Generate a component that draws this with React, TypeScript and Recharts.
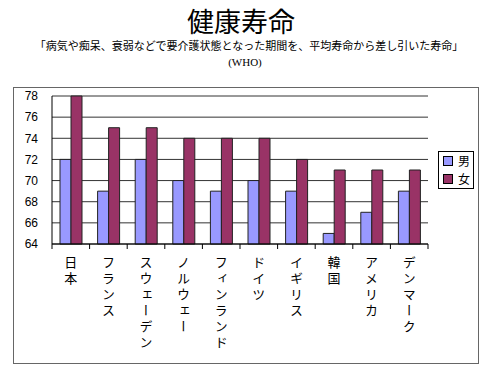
import React from "react";
import { Bar, BarChart, CartesianGrid, XAxis, YAxis } from "recharts";

const countries = ["日本", "フランス", "スウェーデン", "ノルウェー", "フィンランド", "ドイツ", "イギリス", "韓国", "アメリカ", "デンマーク"];
const male = [72, 69, 72, 70, 69, 70, 69, 65, 67, 69];
const female = [78, 75, 75, 74, 74, 74, 72, 71, 71, 71];
const yTicks = [64, 66, 68, 70, 72, 74, 76, 78];
const seriesNames = ["男", "女"];

const data = countries.map((name, i) => ({ name, male: male[i], female: female[i] }));

const MALE_COLOR = "#9999ff";
const FEMALE_COLOR = "#993366";
const JP_FONT = "'Noto Sans CJK JP', sans-serif";

// plot area is 376px wide, 10 categories
const CAT_W = 37.6;

function CountryTick(props: any) {
  const { x, y, payload, index } = props;
  return (
    <g>
      {index === 0 ? <line x1={x - CAT_W / 2} y1={y} x2={x - CAT_W / 2} y2={y + 5} stroke="#000" /> : null}
      <line x1={x + CAT_W / 2} y1={y} x2={x + CAT_W / 2} y2={y + 5} stroke="#000" />
      <text
        x={x}
        y={y + 12}
        fontSize={13}
        fill="#000"
        fontFamily={JP_FONT}
        style={{ writingMode: "vertical-rl", letterSpacing: 3 } as any}
      >
        {payload.value}
      </text>
    </g>
  );
}

function LegendBox() {
  const colors = [MALE_COLOR, FEMALE_COLOR];
  return (
    <div
      style={{
        position: "absolute",
        left: 438,
        top: 151,
        width: 36,
        height: 38,
        border: "1px solid #000",
        background: "#fff",
        fontFamily: JP_FONT,
        fontSize: 12,
        color: "#000",
        boxSizing: "border-box",
        paddingTop: 0,
      }}
    >
      {seriesNames.map((label, i) => (
        <div key={label} style={{ display: "flex", alignItems: "center", height: 18, paddingLeft: 4 }}>
          <span style={{ width: 8, height: 8, background: colors[i], border: "1px solid #000", marginRight: 5, flex: "none" }} />
          <span style={{ lineHeight: "18px" }}>{label}</span>
        </div>
      ))}
    </div>
  );
}

export default function App() {
  return (
    <div style={{ position: "absolute", left: 0, top: 0, width: 500, height: 377, background: "#fff" }}>
      <div
        style={{
          position: "absolute",
          left: 13,
          top: 87,
          width: 464,
          height: 275,
          border: "1px solid #666",
        }}
      />
      <svg width={500} height={87} style={{ position: "absolute", left: 0, top: 0 }}>
        <text x={241} y={32} textAnchor="middle" fontSize={27} fontFamily={JP_FONT} fill="#000">
          健康寿命
        </text>
        <text x={249} y={50} textAnchor="middle" fontSize={11} fontFamily={JP_FONT} fill="#000">
          「病気や痴呆、衰弱などで要介護状態となった期間を、平均寿命から差し引いた寿命」
        </text>
        <text x={245} y={66} textAnchor="middle" fontSize={11} fontFamily="'Liberation Serif', serif" fill="#000">
          (WHO)
        </text>
      </svg>
      <div style={{ position: "absolute", left: 0, top: 0 }}>
        <BarChart
          width={500}
          height={377}
          data={data}
          margin={{ top: 96, right: 72, bottom: 0, left: 0 }}
          barSize={11}
          barGap={0}
        >
          <CartesianGrid vertical={false} stroke="#333" />
          <XAxis
            dataKey="name"
            interval={0}
            tickLine={false}
            tickSize={0}
            tickMargin={0}
            axisLine={{ stroke: "#000" }}
            tick={<CountryTick />}
            height={133}
          />
          <YAxis
            domain={[64, 78]}
            ticks={yTicks}
            interval={0}
            width={52}
            tickLine={false}
            tickSize={4}
            tickMargin={10}
            axisLine={{ stroke: "#000" }}
            tick={{ fontSize: 12, fill: "#000", fontFamily: "'Liberation Sans', sans-serif" }}
          />
          <Bar dataKey="male" name={seriesNames[0]} fill={MALE_COLOR} stroke="#222" strokeWidth={1} isAnimationActive={false} />
          <Bar dataKey="female" name={seriesNames[1]} fill={FEMALE_COLOR} stroke="#222" strokeWidth={1} isAnimationActive={false} />
        </BarChart>
      </div>
      <LegendBox />
    </div>
  );
}
